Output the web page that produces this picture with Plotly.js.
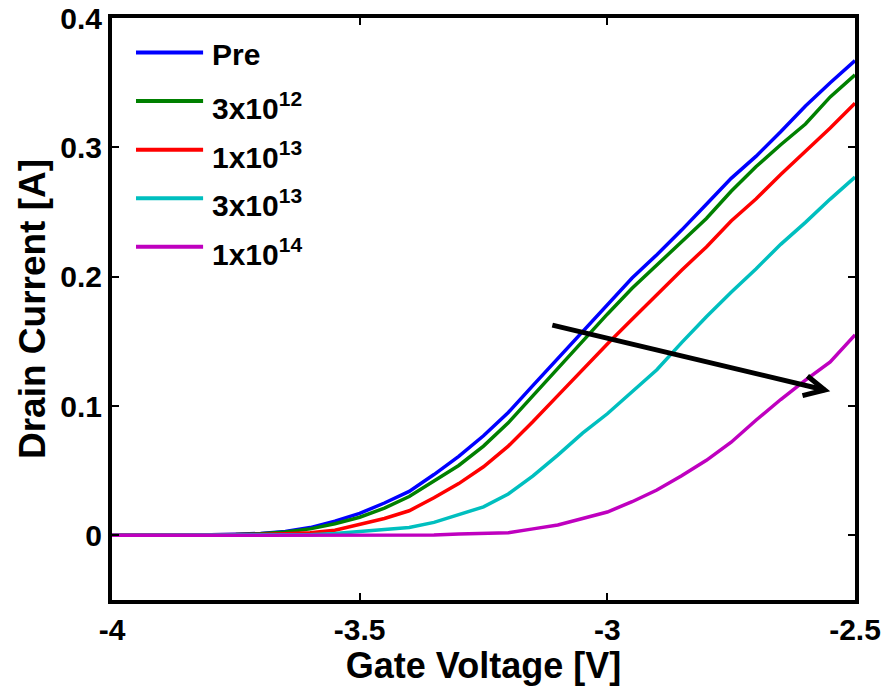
<!DOCTYPE html>
<html>
<head>
<meta charset="utf-8">
<script src="https://cdn.plot.ly/plotly-3.0.1.min.js"></script>
<style>html,body{margin:0;padding:0;background:#fff;}#chart{width:882px;height:686px;}</style>
</head>
<body>
<div id="chart"></div>
<script>
// ---- data ----
const gateVoltage = [-4, -3.95, -3.9, -3.85, -3.8, -3.75, -3.7, -3.65, -3.6, -3.55, -3.5, -3.45, -3.4, -3.35, -3.3, -3.25, -3.2, -3.15, -3.1, -3.05, -3.0, -2.95, -2.9, -2.85, -2.8, -2.75, -2.7, -2.65, -2.6, -2.55, -2.5];
const currentPre  = [0, 0, 0, 0.0002, 0.0004, 0.0008, 0.0015, 0.003, 0.006, 0.011, 0.017, 0.025, 0.034, 0.047, 0.061, 0.077, 0.095, 0.116, 0.137, 0.158, 0.179, 0.199, 0.217, 0.236, 0.256, 0.276, 0.293, 0.312, 0.332, 0.350, 0.367];
const current3e12 = [0, 0, 0, 0.0001, 0.0003, 0.0006, 0.0012, 0.0025, 0.005, 0.009, 0.014, 0.021, 0.030, 0.042, 0.054, 0.069, 0.087, 0.108, 0.129, 0.150, 0.171, 0.191, 0.209, 0.227, 0.245, 0.266, 0.285, 0.302, 0.318, 0.339, 0.356];
const current1e13 = [0, 0, 0, 0, 0.0001, 0.0003, 0.0006, 0.0012, 0.002, 0.004, 0.0085, 0.013, 0.019, 0.029, 0.040, 0.053, 0.069, 0.088, 0.108, 0.128, 0.148, 0.167, 0.186, 0.205, 0.223, 0.243, 0.260, 0.279, 0.297, 0.315, 0.334];
const current3e13 = [0, 0, 0, 0, 0, 0, 0.0001, 0.0003, 0.0005, 0.0015, 0.003, 0.0045, 0.006, 0.010, 0.016, 0.022, 0.032, 0.046, 0.062, 0.079, 0.094, 0.111, 0.128, 0.149, 0.169, 0.188, 0.206, 0.225, 0.242, 0.260, 0.277];
const current1e14 = [0, 0, 0, 0, 0, 0, 0, 0, 0, 0, 0, 0, 0, 0.0002, 0.001, 0.0015, 0.002, 0.005, 0.008, 0.013, 0.018, 0.026, 0.035, 0.046, 0.058, 0.072, 0.089, 0.105, 0.120, 0.134, 0.155];
const seriesNames = ["Pre", "3x10<sup>12</sup>", "1x10<sup>13</sup>", "3x10<sup>13</sup>", "1x10<sup>14</sup>"];
const xTickVals = [-4, -3.5, -3, -2.5];
const xTickText = ["-4", "-3.5", "-3", "-2.5"];
const yTickVals = [0, 0.1, 0.2, 0.3, 0.4];
const yTickText = ["0", "0.1", "0.2", "0.3", "0.4"];
// arrow annotation (start, tip, head arms) in data units
const arrowX = [-3.111, -2.561, -2.596, -2.606];
const arrowY = [0.1625, 0.1124, 0.1232, 0.108];

// ---- styling ----
const seriesValues = [currentPre, current3e12, current1e13, current3e13, current1e14];
const colors = ["#0000FF", "#008000", "#FF0000", "#00BFBF", "#BF00BF"];
const FONT = "Liberation Sans, Arial, sans-serif";

const traces = seriesValues.map((vals, i) => ({
  x: gateVoltage, y: vals, type: "scatter", mode: "lines",
  name: seriesNames[i], showlegend: false,
  line: {color: colors[i], width: 3.5}
}));

// custom legend placed like the MATLAB legend
const legTop = 0.9408, legStep = 0.0835;
const shapes = [];
const annotations = [];
seriesNames.forEach((n, i) => {
  const yy = legTop - i * legStep;
  shapes.push({type: "line", xref: "paper", yref: "paper", x0: 0.0323, x1: 0.1226, y0: yy, y1: yy,
    line: {color: colors[i], width: 4}});
  annotations.push({xref: "paper", yref: "paper", x: 0.132, y: yy, xanchor: "left", yanchor: "middle",
    text: "<b>" + n + "</b>", showarrow: false, yshift: i === 0 ? -2 : -5,
    font: {family: FONT, size: 30, color: "#000"}});
});
// arrow
shapes.push({type: "line", xref: "x", yref: "y", x0: arrowX[0], y0: arrowY[0], x1: arrowX[1], y1: arrowY[1],
  line: {color: "#000", width: 5}});
shapes.push({type: "path", xref: "x", yref: "y",
  path: "M " + arrowX[2] + "," + arrowY[2] + " L " + arrowX[1] + "," + arrowY[1] + " L " + arrowX[3] + "," + arrowY[3],
  line: {color: "#000", width: 5}});

const axisCommon = {
  showline: true, linecolor: "#000", linewidth: 4, mirror: "ticks",
  ticks: "inside", ticklen: 7, tickwidth: 2, tickcolor: "#000",
  showgrid: false, zeroline: false,
  tickfont: {family: FONT, size: 30, color: "#000", weight: "bold"}
};

const layout = {
  width: 882, height: 686,
  margin: {l: 112, r: 27, t: 18, b: 86},
  paper_bgcolor: "#fff", plot_bgcolor: "#fff",
  xaxis: Object.assign({}, axisCommon, {
    range: [-4, -2.5], tickvals: xTickVals, ticktext: xTickText,
    title: {text: "<b>Gate Voltage [V]</b>", font: {family: FONT, size: 36, color: "#000"}, standoff: 0}
  }),
  yaxis: Object.assign({}, axisCommon, {
    range: [-0.05, 0.4], tickvals: yTickVals, ticktext: yTickText,
    title: {text: "<b>Drain Current [A]</b>", font: {family: FONT, size: 37, color: "#000"}, standoff: 4}
  }),
  shapes: shapes, annotations: annotations
};

Plotly.newPlot("chart", traces, layout, {displayModeBar: false, staticPlot: true});
</script>
</body>
</html>
